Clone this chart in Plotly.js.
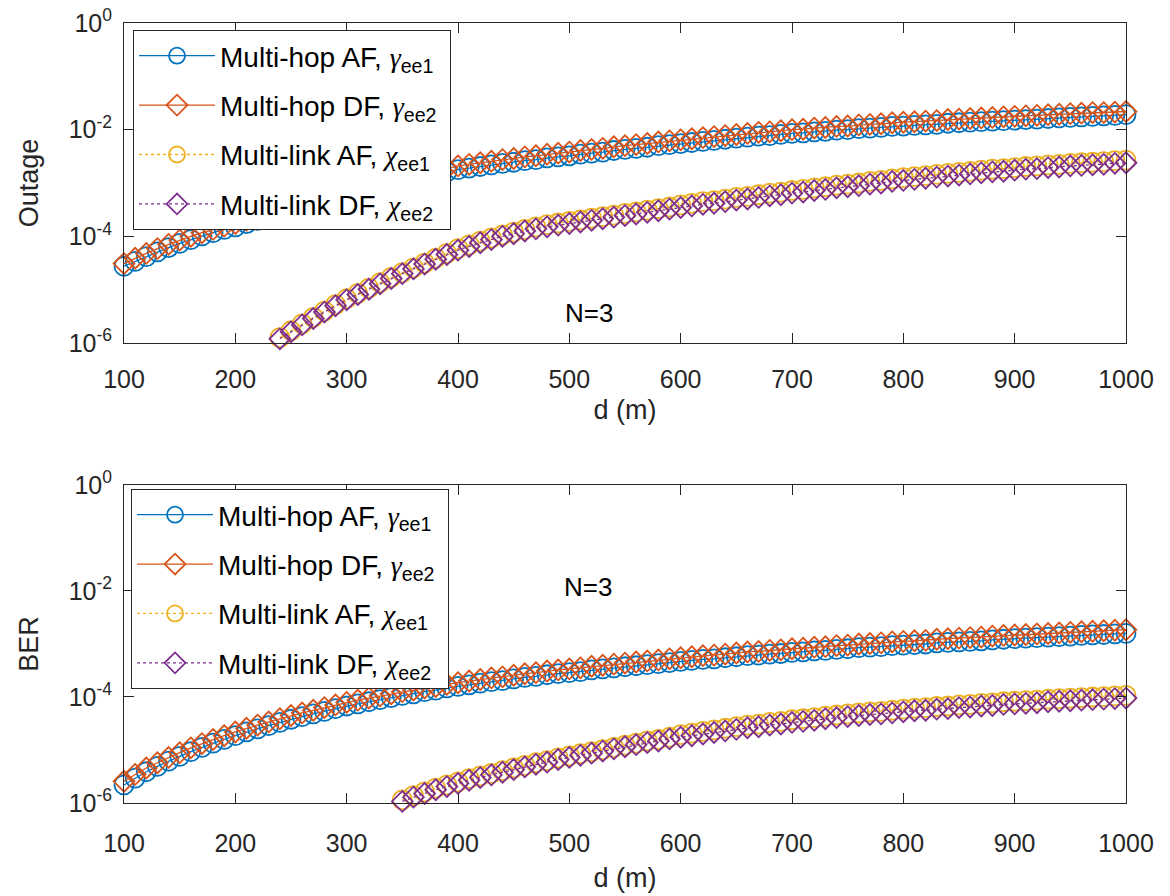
<!DOCTYPE html>
<html>
<head>
<meta charset="utf-8">
<script src="https://cdn.plot.ly/plotly-3.0.1.min.js"></script>
<style>html,body{margin:0;padding:0;background:#fff;}#chart{width:1170px;height:896px;}</style>
</head>
<body>
<div id="chart"></div>
<script>
// distance d (m)
const dHop = [100,110,120,130,140,150,160,170,180,190,200,210,220,230,240,250,260,270,280,290,
  300,310,320,330,340,350,360,370,380,390,400,410,420,430,440,450,460,470,480,490,
  500,510,520,530,540,550,560,570,580,590,600,610,620,630,640,650,660,670,680,690,
  700,710,720,730,740,750,760,770,780,790,800,810,820,830,840,850,860,870,880,890,
  900,910,920,930,940,950,960,970,980,990,1000];
const dLinkOutage = dHop.slice(14);   // 240 ... 1000
const dLinkBer = dHop.slice(25);      // 350 ... 1000

const xTicks = [100,200,300,400,500,600,700,800,900,1000];
const yTickVals = [1e-6,1e-4,1e-2,1];
const yTickText = ['10<sup>-6</sup>','10<sup>-4</sup>','10<sup>-2</sup>','10<sup>0</sup>'];

// ---- Outage (top panel) ----
const outageHopAF = [2.75e-5,3.39e-5,4.17e-5,5.13e-5,6.17e-5,7.41e-5,8.71e-5,1.02e-4,1.17e-4,1.35e-4,
  1.51e-4,1.74e-4,2.00e-4,2.29e-4,2.63e-4,3.02e-4,3.47e-4,3.89e-4,4.47e-4,5.01e-4,
  5.75e-4,6.46e-4,7.24e-4,8.13e-4,9.12e-4,1.02e-3,1.15e-3,1.29e-3,1.45e-3,1.62e-3,
  1.78e-3,1.91e-3,2.04e-3,2.19e-3,2.34e-3,2.45e-3,2.63e-3,2.75e-3,2.95e-3,3.09e-3,
  3.24e-3,3.47e-3,3.63e-3,3.80e-3,4.07e-3,4.27e-3,4.47e-3,4.68e-3,5.01e-3,5.25e-3,
  5.50e-3,5.75e-3,6.03e-3,6.31e-3,6.61e-3,6.92e-3,7.24e-3,7.59e-3,7.76e-3,8.13e-3,
  8.51e-3,8.71e-3,9.12e-3,9.33e-3,9.77e-3,1.00e-2,1.05e-2,1.07e-2,1.10e-2,1.15e-2,
  1.17e-2,1.20e-2,1.23e-2,1.26e-2,1.32e-2,1.35e-2,1.38e-2,1.41e-2,1.45e-2,1.48e-2,
  1.51e-2,1.55e-2,1.58e-2,1.62e-2,1.66e-2,1.70e-2,1.74e-2,1.78e-2,1.82e-2,1.86e-2,
  1.91e-2];
const outageHopDF = [3.09e-5,3.89e-5,4.79e-5,5.89e-5,7.08e-5,8.51e-5,1.00e-4,1.17e-4,1.35e-4,1.55e-4,
  1.74e-4,2.00e-4,2.29e-4,2.63e-4,3.02e-4,3.47e-4,3.98e-4,4.47e-4,5.13e-4,5.75e-4,
  6.61e-4,7.41e-4,8.32e-4,9.55e-4,1.07e-3,1.20e-3,1.35e-3,1.51e-3,1.70e-3,1.91e-3,
  2.09e-3,2.24e-3,2.40e-3,2.57e-3,2.75e-3,2.88e-3,3.09e-3,3.24e-3,3.47e-3,3.63e-3,
  3.80e-3,4.07e-3,4.27e-3,4.47e-3,4.79e-3,5.01e-3,5.25e-3,5.50e-3,5.89e-3,6.17e-3,
  6.46e-3,6.76e-3,7.08e-3,7.41e-3,7.76e-3,8.13e-3,8.51e-3,8.91e-3,9.12e-3,9.55e-3,
  1.00e-2,1.02e-2,1.07e-2,1.10e-2,1.15e-2,1.17e-2,1.23e-2,1.26e-2,1.29e-2,1.35e-2,
  1.38e-2,1.41e-2,1.45e-2,1.48e-2,1.55e-2,1.58e-2,1.62e-2,1.66e-2,1.70e-2,1.74e-2,
  1.78e-2,1.82e-2,1.86e-2,1.91e-2,1.95e-2,2.00e-2,2.04e-2,2.09e-2,2.09e-2,2.14e-2,
  2.19e-2];
const outageLinkAF = [1.26e-6,1.70e-6,2.29e-6,3.02e-6,3.98e-6,5.25e-6,
  6.76e-6,8.51e-6,1.07e-5,1.35e-5,1.70e-5,2.09e-5,2.57e-5,3.16e-5,3.89e-5,4.79e-5,
  5.89e-5,6.92e-5,8.13e-5,9.33e-5,1.07e-4,1.20e-4,1.35e-4,1.51e-4,1.66e-4,1.78e-4,
  1.91e-4,2.04e-4,2.19e-4,2.34e-4,2.51e-4,2.69e-4,2.88e-4,3.09e-4,3.31e-4,3.55e-4,
  3.89e-4,4.17e-4,4.47e-4,4.68e-4,5.01e-4,5.37e-4,5.62e-4,6.03e-4,6.46e-4,6.76e-4,
  7.24e-4,7.59e-4,8.13e-4,8.51e-4,9.12e-4,9.55e-4,1.00e-3,1.07e-3,1.12e-3,1.20e-3,
  1.26e-3,1.32e-3,1.38e-3,1.45e-3,1.51e-3,1.58e-3,1.66e-3,1.74e-3,1.82e-3,1.86e-3,
  1.95e-3,2.04e-3,2.09e-3,2.19e-3,2.24e-3,2.34e-3,2.40e-3,2.45e-3,2.51e-3,2.63e-3,
  2.69e-3];
const outageLinkDF = [1.20e-6,1.62e-6,2.19e-6,2.88e-6,3.80e-6,5.01e-6,
  6.46e-6,8.13e-6,1.02e-5,1.29e-5,1.62e-5,2.00e-5,2.45e-5,3.02e-5,3.72e-5,4.57e-5,
  5.50e-5,6.46e-5,7.59e-5,8.71e-5,1.00e-4,1.12e-4,1.26e-4,1.38e-4,1.51e-4,1.62e-4,
  1.74e-4,1.86e-4,2.00e-4,2.14e-4,2.29e-4,2.45e-4,2.63e-4,2.82e-4,3.02e-4,3.24e-4,
  3.47e-4,3.72e-4,3.98e-4,4.17e-4,4.47e-4,4.79e-4,5.01e-4,5.37e-4,5.75e-4,6.03e-4,
  6.46e-4,6.76e-4,7.24e-4,7.59e-4,8.13e-4,8.51e-4,8.91e-4,9.55e-4,1.00e-3,1.07e-3,
  1.12e-3,1.17e-3,1.23e-3,1.29e-3,1.35e-3,1.41e-3,1.48e-3,1.55e-3,1.62e-3,1.66e-3,
  1.74e-3,1.82e-3,1.86e-3,1.95e-3,2.00e-3,2.09e-3,2.14e-3,2.19e-3,2.24e-3,2.34e-3,
  2.40e-3];

// ---- BER (bottom panel) ----
const berHopAF = [2.19e-6,2.95e-6,3.89e-6,4.90e-6,6.17e-6,7.59e-6,9.33e-6,1.12e-5,1.35e-5,1.58e-5,
  1.86e-5,2.19e-5,2.51e-5,2.88e-5,3.31e-5,3.80e-5,4.27e-5,4.79e-5,5.37e-5,6.03e-5,
  6.76e-5,7.41e-5,8.13e-5,8.91e-5,9.77e-5,1.07e-4,1.15e-4,1.26e-4,1.35e-4,1.48e-4,
  1.58e-4,1.70e-4,1.82e-4,1.95e-4,2.04e-4,2.19e-4,2.34e-4,2.45e-4,2.63e-4,2.75e-4,
  2.88e-4,3.02e-4,3.24e-4,3.39e-4,3.55e-4,3.72e-4,3.89e-4,4.07e-4,4.27e-4,4.47e-4,
  4.68e-4,4.90e-4,5.13e-4,5.25e-4,5.50e-4,5.75e-4,6.03e-4,6.17e-4,6.46e-4,6.61e-4,
  6.92e-4,7.08e-4,7.41e-4,7.59e-4,7.94e-4,8.13e-4,8.51e-4,8.71e-4,8.91e-4,9.33e-4,
  9.55e-4,9.77e-4,1.00e-3,1.05e-3,1.07e-3,1.10e-3,1.12e-3,1.15e-3,1.20e-3,1.23e-3,
  1.26e-3,1.29e-3,1.32e-3,1.35e-3,1.38e-3,1.41e-3,1.45e-3,1.48e-3,1.51e-3,1.55e-3,
  1.58e-3];
const berHopDF = [2.57e-6,3.47e-6,4.57e-6,5.75e-6,7.24e-6,8.91e-6,1.10e-5,1.32e-5,1.58e-5,1.86e-5,
  2.19e-5,2.57e-5,2.95e-5,3.39e-5,3.89e-5,4.47e-5,5.01e-5,5.62e-5,6.31e-5,7.08e-5,
  7.94e-5,8.71e-5,9.55e-5,1.05e-4,1.15e-4,1.26e-4,1.35e-4,1.48e-4,1.58e-4,1.74e-4,
  1.86e-4,2.00e-4,2.14e-4,2.29e-4,2.40e-4,2.57e-4,2.75e-4,2.88e-4,3.09e-4,3.24e-4,
  3.39e-4,3.55e-4,3.80e-4,3.98e-4,4.17e-4,4.37e-4,4.57e-4,4.79e-4,5.01e-4,5.25e-4,
  5.50e-4,5.75e-4,6.03e-4,6.17e-4,6.46e-4,6.76e-4,7.08e-4,7.24e-4,7.59e-4,7.76e-4,
  8.13e-4,8.32e-4,8.71e-4,8.91e-4,9.33e-4,9.55e-4,1.00e-3,1.02e-3,1.05e-3,1.10e-3,
  1.12e-3,1.15e-3,1.17e-3,1.23e-3,1.26e-3,1.29e-3,1.32e-3,1.35e-3,1.41e-3,1.45e-3,
  1.48e-3,1.51e-3,1.55e-3,1.58e-3,1.62e-3,1.66e-3,1.70e-3,1.74e-3,1.78e-3,1.82e-3,
  1.86e-3];
const berLinkAF = [1.15e-6,1.38e-6,1.62e-6,1.91e-6,2.19e-6,
  2.51e-6,2.88e-6,3.24e-6,3.63e-6,4.07e-6,4.57e-6,5.13e-6,5.75e-6,6.31e-6,7.08e-6,
  7.76e-6,8.51e-6,9.33e-6,1.02e-5,1.12e-5,1.23e-5,1.35e-5,1.48e-5,1.58e-5,1.74e-5,
  1.95e-5,2.09e-5,2.24e-5,2.40e-5,2.57e-5,2.75e-5,2.95e-5,3.09e-5,3.31e-5,3.47e-5,
  3.72e-5,3.89e-5,4.07e-5,4.37e-5,4.57e-5,4.79e-5,5.01e-5,5.25e-5,5.37e-5,5.62e-5,
  5.89e-5,6.17e-5,6.31e-5,6.61e-5,6.76e-5,7.08e-5,7.24e-5,7.59e-5,7.76e-5,8.13e-5,
  8.32e-5,8.51e-5,8.71e-5,9.12e-5,9.33e-5,9.55e-5,9.77e-5,1.00e-4,1.02e-4,1.05e-4,
  1.07e-4];
const berLinkDF = [1.07e-6,1.29e-6,1.51e-6,1.78e-6,2.04e-6,
  2.34e-6,2.69e-6,3.02e-6,3.39e-6,3.80e-6,4.27e-6,4.79e-6,5.37e-6,5.89e-6,6.61e-6,
  7.24e-6,7.94e-6,8.71e-6,9.55e-6,1.05e-5,1.15e-5,1.26e-5,1.38e-5,1.48e-5,1.62e-5,
  1.74e-5,1.86e-5,2.00e-5,2.14e-5,2.29e-5,2.45e-5,2.63e-5,2.75e-5,2.95e-5,3.09e-5,
  3.31e-5,3.47e-5,3.63e-5,3.89e-5,4.07e-5,4.27e-5,4.47e-5,4.68e-5,4.79e-5,5.01e-5,
  5.25e-5,5.50e-5,5.62e-5,5.89e-5,6.03e-5,6.31e-5,6.46e-5,6.76e-5,6.92e-5,7.24e-5,
  7.41e-5,7.59e-5,7.76e-5,8.13e-5,8.32e-5,8.51e-5,8.71e-5,8.91e-5,9.12e-5,9.33e-5,
  9.55e-5];

const greek = (g) => "<span style=\"font-family:'Liberation Serif'\"><i>" + g + "</i></span>";
const seriesNames = [
  "Multi-hop AF, " + greek('γ') + "<sub>ee1</sub>\u00a0",
  "Multi-hop DF, " + greek('γ') + "<sub>ee2</sub>\u00a0",
  "Multi-link AF, " + greek('χ') + "<sub>ee1</sub>\u00a0",
  "Multi-link DF, " + greek('χ') + "<sub>ee2</sub>\u00a0"
];
const groups = ['g1','g2','g3','g4'];
const colors = ['#0072BD','#D95319','#EDB120','#7E2F8E'];
const symbols = ['circle-open','diamond-open','circle-open','diamond-open'];
const dashes = ['solid','solid','dot','dot'];

function mk(i, x, y, xa, ya, leg){
  return {
    type:'scatter', mode:'lines+markers', x:x, y:y, xaxis:xa, yaxis:ya, legend:leg,
    name:seriesNames[i], legendgroup:leg + groups[i], cliponaxis:false,
    line:{color:colors[i], width:1.3, dash:dashes[i]},
    marker:{symbol:symbols[i], color:colors[i], size:(symbols[i]==='circle-open'?19:16),
            line:{color:colors[i], width:1.8}}
  };
}

const data = [
  mk(0, dHop, outageHopAF, 'x', 'y', 'legend'),
  mk(1, dHop, outageHopDF, 'x', 'y', 'legend'),
  mk(2, dLinkOutage, outageLinkAF, 'x', 'y', 'legend'),
  mk(3, dLinkOutage, outageLinkDF, 'x', 'y', 'legend'),
  mk(0, dHop, berHopAF, 'x2', 'y2', 'legend2'),
  mk(1, dHop, berHopDF, 'x2', 'y2', 'legend2'),
  mk(2, dLinkBer, berLinkAF, 'x2', 'y2', 'legend2'),
  mk(3, dLinkBer, berLinkDF, 'x2', 'y2', 'legend2')
];

const axCol = '#262626';
function xax(anchor, lblOff, titleOff){
  return {anchor:anchor, domain:[0,1], range:[100,1000], tickvals:xTicks,
    ticks:'inside', ticklen:10, tickwidth:1, tickcolor:axCol,
    showline:true, linecolor:axCol, linewidth:1, mirror:'ticks',
    showgrid:false, zeroline:false, ticklabelstandoff:lblOff,
    tickfont:{size:25, color:axCol},
    title:{text:'d (m)', font:{size:27, color:axCol}, standoff:titleOff}};
}
function yax(anchor, dom, label){
  return {anchor:anchor, domain:dom, type:'log', range:[-6,0],
    tickvals:yTickVals, ticktext:yTickText,
    ticks:'inside', ticklen:10, tickwidth:1, tickcolor:axCol,
    showline:true, linecolor:axCol, linewidth:1, mirror:'ticks',
    showgrid:false, zeroline:false, ticklabelstandoff:6,
    tickfont:{size:25, color:axCol},
    title:{text:label, font:{size:27, color:axCol}, standoff:22}};
}
function leg(x, y){
  return {x:x, y:y, xanchor:'left', yanchor:'top', bgcolor:'#ffffff',
    bordercolor:axCol, borderwidth:1, font:{size:28, color:'#000000'},
    itemwidth:76, traceorder:'grouped', tracegroupgap:10};
}

const layout = {
  width:1170, height:896,
  paper_bgcolor:'#ffffff', plot_bgcolor:'#ffffff',
  margin:{l:124, r:44, t:23, b:93},
  font:{family:'Liberation Sans, Arial, sans-serif', size:25, color:axCol},
  showlegend:true,
  xaxis: xax('y', 14, 8),
  yaxis: yax('x', [0.5897,1], 'Outage'),
  xaxis2: xax('y2', 18, 12),
  yaxis2: yax('x2', [0,0.4077], 'BER'),
  legend: leg(0.009, 0.991),
  legend2: leg(0.007, 0.4026),
  annotations:[
    {xref:'x', yref:'y', x:518, y:-5.43, text:'N=3', showarrow:false, font:{size:26, color:'#000000'}},
    {xref:'x2', yref:'y2', x:517, y:-1.92, text:'N=3', showarrow:false, font:{size:26, color:'#000000'}}
  ]
};

Plotly.newPlot('chart', data, layout, {displayModeBar:false, staticPlot:true});
</script>
</body>
</html>
